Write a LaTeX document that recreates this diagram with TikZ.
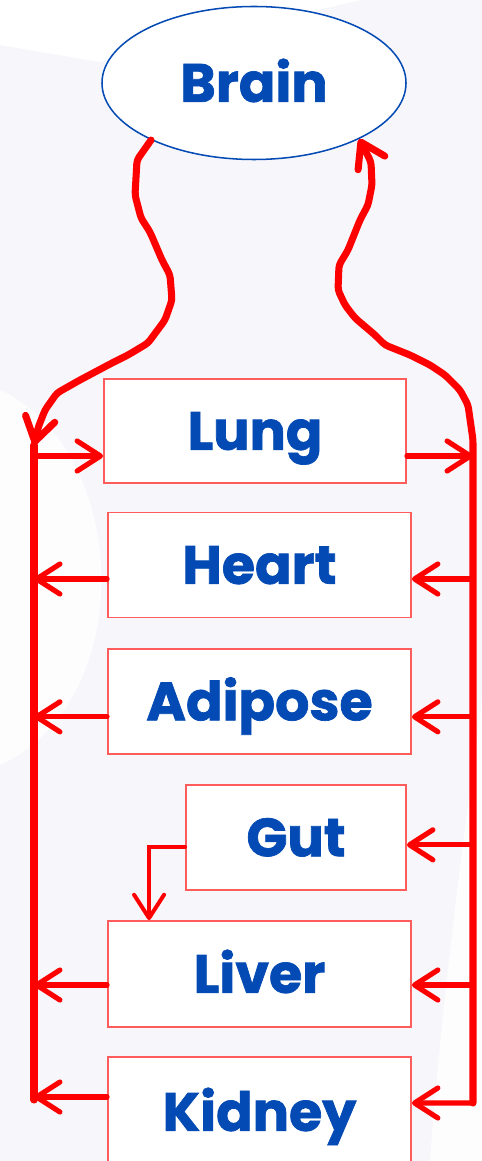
\documentclass[tikz,border=0pt]{standalone}
\usepackage{fontspec}
\setmainfont{Poppins}[BoldFont={* Bold}, BoldFeatures={FakeBold=1.3}]
\usetikzlibrary{arrows.meta, shapes.geometric}

\definecolor{organblue}{RGB}{3,74,180}
\definecolor{vesselred}{RGB}{255,0,0}
\definecolor{boxred}{RGB}{255,92,92}
\definecolor{paper}{RGB}{247,246,250}

\tikzset{
    organ/.style={draw=boxred, line width=1.6pt, fill=white, rectangle, inner sep=0pt,
        font=\fontsize{46}{50}\selectfont\bfseries, text=organblue, text height=1.13cm, text depth=0pt},
    vessel/.style={vesselred, line width=6pt, line cap=round, line join=round},
    flow/.style={vesselred, line width=4.4pt, line cap=round,
        -{Straight Barb[length=0.7cm, width=0.9cm, round]}},
}

\begin{document}
\begin{tikzpicture}[x=0.03cm, y=-0.03cm]
    \fill[paper] (0,0) rectangle (482,1161);
    \clip (0,0) rectangle (482,1161);
    \useasboundingbox (0,0) rectangle (482,1161);
    % background sheen
    \fill[white] (0,0) -- (360,0) -- (100,62) -- (0,45) -- cycle;
    \fill[white, opacity=0.8] (0,390) .. controls (130,450) and (140,700) .. (0,765) -- cycle;
    \fill[white, opacity=0.8] (482,700) .. controls (462,850) and (442,1000) .. (430,1161) -- (482,1161) -- cycle;
    % organs
    \node[ellipse, draw=organblue, line width=1.3pt, fill=white, minimum width=9.12cm, minimum height=4.59cm,
        font=\fontsize{46}{50}\selectfont\bfseries, text=organblue, text height=1.13cm, text depth=0pt]
        (brain) at (254,83) {Brain};
    \node[organ, minimum width=9.06cm, minimum height=3.12cm] (lung) at (255,431) {Lung};
    \node[organ, minimum width=9.09cm, minimum height=3.15cm] (heart) at (259.5,565) {Heart};
    \node[organ, minimum width=9.09cm, minimum height=3.15cm] (adipose) at (259.5,701.5) {Adipose};
    \node[organ, minimum width=6.6cm, minimum height=3.15cm] (gut) at (296,837.5) {Gut};
    \node[organ, minimum width=9.09cm, minimum height=3.18cm] (liver) at (259.5,974) {Liver};
    \node[organ, minimum width=9.09cm, minimum height=3.3cm] (kidney) at (259.5,1112) {Kidney};
    % trunk ends
    \coordinate (ltop) at (34,445);
    \coordinate (lbot) at (34,1100);
    \coordinate (rtop) at (473,440);
    \coordinate (rbot) at (473,1103);
    % neck vessels
    \draw[vessel, -{Straight Barb[length=0.7cm, width=0.9cm, round]}, rounded corners=3pt]
        (brain.-151) -- (137,160) -- (135,195) -- (141,218) -- (150,232) -- (162,260) -- (170,275)
        -- (172,300) -- (165,320) -- (148,343) -- (128,355) -- (112,363) -- (80,380) -- (57,393)
        -- (45,410) -- (38,428) -- (ltop);
    \draw[vessel, -{Straight Barb[length=0.7cm, width=0.9cm, round]}, rounded corners=3pt]
        (rbot) -- (rtop) -- (468,405) -- (460,390) -- (445,375) -- (430,365) -- (410,355)
        -- (385,345) -- (375,335) -- (355,318) -- (345,305) -- (338,290) -- (339,265) -- (348,250)
        -- (360,220) -- (368,205) -- (372,185) -- (371,162) -- (brain.-28);
    \draw[vessel] (ltop) -- (lbot);
    % lung
    \draw[flow] ([yshift=-0.75cm]lung.west -| ltop) -- ([yshift=-0.75cm]lung.west);
    \draw[flow] ([yshift=-0.75cm]lung.east) -- ([yshift=-0.75cm]lung.east -| rtop);
    % tissues
    \foreach \tissue/\dy in {heart/-0.42cm, adipose/-0.46cm, liver/-0.33cm} {
        \coordinate (\tissue-out) at ([yshift=\dy]\tissue.west);
        \coordinate (\tissue-in) at ([yshift=\dy]\tissue.east);
        \draw[flow] (\tissue-out) -- (\tissue-out -| lbot);
        \draw[flow] (\tissue-in -| rbot) -- (\tissue-in);
    }
    \coordinate (gut-in) at ([yshift=-0.22cm]gut.east);
    \draw[flow] (gut-in -| rbot) -- (gut-in);
    \draw[flow, line width=3.4pt] ([yshift=-0.28cm]gut.west) -| ([xshift=1.26cm]liver.north west);
    \coordinate (kidney-out) at ([yshift=0.45cm]kidney.west);
    \coordinate (kidney-in) at ([yshift=0.27cm]kidney.east);
    \draw[flow] (kidney-out) -- (kidney-out -| lbot);
    \draw[flow] (rbot) -- (kidney-in);
\end{tikzpicture}
\end{document}
